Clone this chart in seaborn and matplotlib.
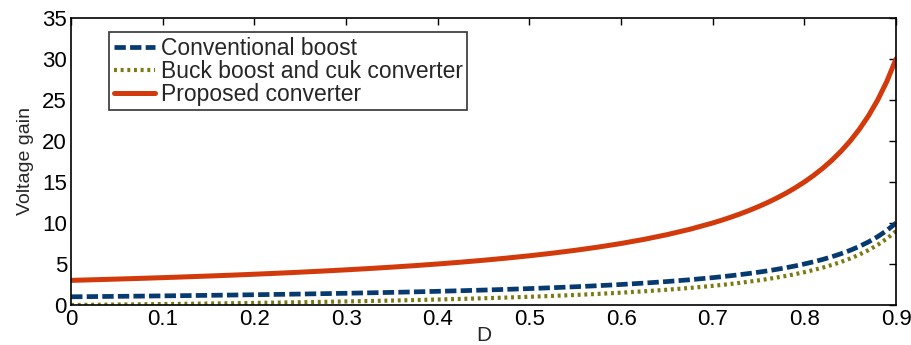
import matplotlib
matplotlib.use("Agg")
import matplotlib.pyplot as plt
import seaborn as sns
import pandas as pd

duty = [0, 0.025, 0.05, 0.075, 0.1, 0.125, 0.15, 0.175, 0.2, 0.225, 0.25, 0.275, 0.3, 0.325,
        0.35, 0.375, 0.4, 0.425, 0.45, 0.475, 0.5, 0.525, 0.55, 0.575, 0.6, 0.625, 0.65, 0.675,
        0.7, 0.71, 0.72, 0.73, 0.74, 0.75, 0.76, 0.77, 0.78, 0.79, 0.8, 0.81, 0.82, 0.83, 0.84,
        0.85, 0.86, 0.87, 0.88, 0.89, 0.9]
conventional = [1.000, 1.026, 1.053, 1.081, 1.111, 1.143, 1.176, 1.212, 1.250, 1.290, 1.333,
                1.379, 1.429, 1.481, 1.538, 1.600, 1.667, 1.739, 1.818, 1.905, 2.000, 2.105,
                2.222, 2.353, 2.500, 2.667, 2.857, 3.077, 3.333, 3.448, 3.571, 3.704, 3.846,
                4.000, 4.167, 4.348, 4.545, 4.762, 5.000, 5.263, 5.556, 5.882, 6.250, 6.667,
                7.143, 7.692, 8.333, 9.091, 10.000]
buck_boost = [0.000, 0.026, 0.053, 0.081, 0.111, 0.143, 0.176, 0.212, 0.250, 0.290, 0.333,
              0.379, 0.429, 0.481, 0.538, 0.600, 0.667, 0.739, 0.818, 0.905, 1.000, 1.105,
              1.222, 1.353, 1.500, 1.667, 1.857, 2.077, 2.333, 2.448, 2.571, 2.704, 2.846,
              3.000, 3.167, 3.348, 3.545, 3.762, 4.000, 4.263, 4.556, 4.882, 5.250, 5.667,
              6.143, 6.692, 7.333, 8.091, 9.000]
proposed = [3.000, 3.077, 3.158, 3.243, 3.333, 3.429, 3.529, 3.636, 3.750, 3.871, 4.000,
            4.138, 4.286, 4.444, 4.615, 4.800, 5.000, 5.217, 5.455, 5.714, 6.000, 6.316,
            6.667, 7.059, 7.500, 8.000, 8.571, 9.231, 10.000, 10.345, 10.714, 11.111, 11.538,
            12.000, 12.500, 13.043, 13.636, 14.286, 15.000, 15.789, 16.667, 17.647, 18.750,
            20.000, 21.429, 23.077, 25.000, 27.273, 30.000]
labels = ["Conventional boost", "Buck boost and cuk converter", "Proposed converter"]
x_ticks = [0, 0.1, 0.2, 0.3, 0.4, 0.5, 0.6, 0.7, 0.8, 0.9]
x_ticklabels = ["0", "0.1", "0.2", "0.3", "0.4", "0.5", "0.6", "0.7", "0.8", "0.9"]
y_ticks = [0, 5, 10, 15, 20, 25, 30, 35]

sns.set_style("white")
plt.rcParams['font.family'] = ['Liberation Sans', 'DejaVu Sans']

fig = plt.figure(figsize=(9.12, 3.45), dpi=100)
ax = fig.add_axes([0.078, 0.116, 0.9045, 0.832])

df = pd.DataFrame({"D": duty, "c": conventional, "b": buck_boost, "p": proposed})

sns.lineplot(data=df, x="D", y="c", ax=ax, color="#073a6e", lw=3.4, label=labels[0])
ax.lines[-1].set_dashes((2.4, 0.9))
sns.lineplot(data=df, x="D", y="b", ax=ax, color="#7a7a10", lw=3.0, label=labels[1])
ax.lines[-1].set_dashes((0.7, 0.9))
sns.lineplot(data=df, x="D", y="p", ax=ax, color="#d23a0c", lw=3.6, label=labels[2])

ax.set_xlim(0, 0.9)
ax.set_ylim(0, 35)
ax.set_xticks(x_ticks)
ax.set_xticklabels(x_ticklabels)
ax.set_yticks(y_ticks)
ax.tick_params(direction="in", length=5, width=1, top=True, right=True,
               labelsize=16, pad=3, colors="black")
for s in ax.spines.values():
    s.set_color("black")
    s.set_linewidth(1.2)
ax.set_xlabel("D", fontsize=15, labelpad=-3)
ax.set_ylabel("Voltage gain", fontsize=14, labelpad=6)

leg = ax.legend(loc="upper left", bbox_to_anchor=(0.046, 0.95), borderaxespad=0,
                fontsize=16.5, frameon=True, fancybox=False, handlelength=1.8,
                handletextpad=0.25, labelspacing=0.0, borderpad=0.2)
leg.get_frame().set_edgecolor("black")
leg.get_frame().set_linewidth(1.2)

fig.savefig("out.png", dpi=100)
